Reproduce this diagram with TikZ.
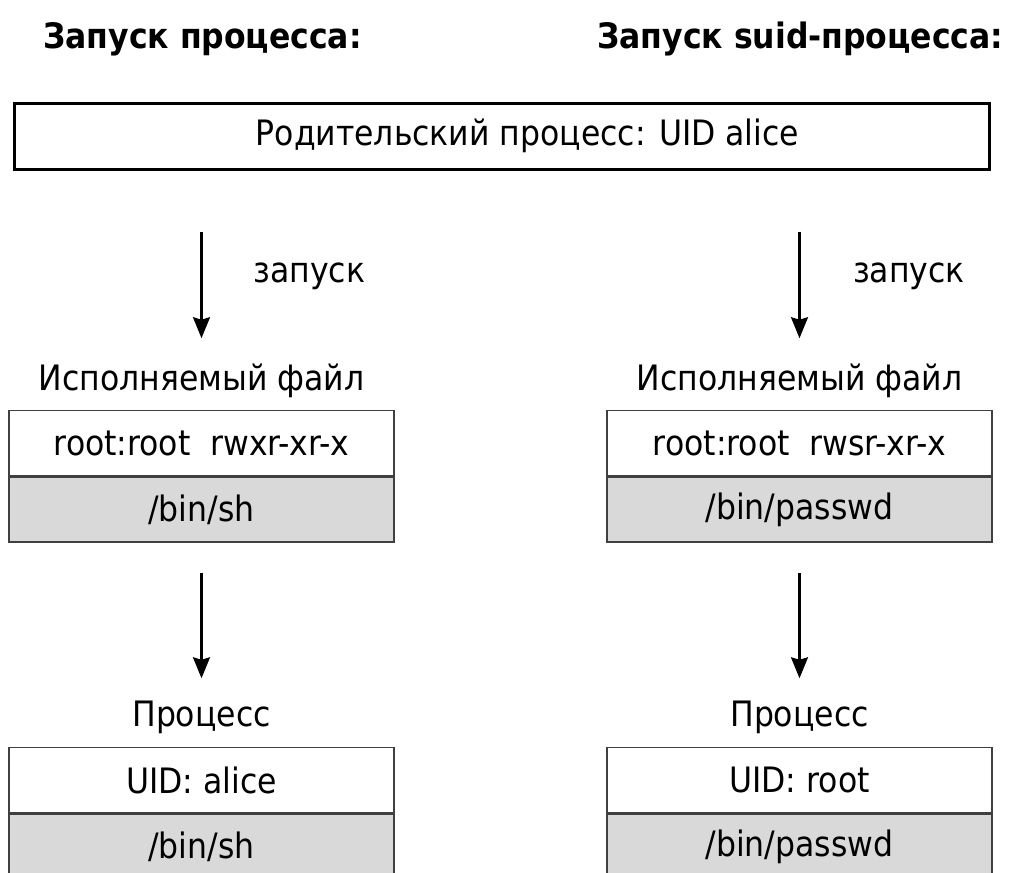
\documentclass[tikz,border=0pt]{standalone}
\usepackage{fontspec}
\setmainfont{DejaVu Sans Condensed}
\usepackage{tikz}
\usetikzlibrary{positioning, arrows.meta}

\begin{document}
\begin{tikzpicture}[x=1pt, y=-1pt,
    every node/.style={font=\fontsize{35}{42}\selectfont},
    title/.style={font=\fontsize{35}{42}\selectfont\bfseries, anchor=base west, inner sep=0pt},
    caption/.style={anchor=base, inner sep=0pt},
    cell/.style={rectangle, draw=black!75, line width=1.8pt, minimum width=385pt, minimum height=65pt, inner sep=0pt},
    pathcell/.style={cell, fill=black!15},
    parentbox/.style={rectangle, draw=black, line width=3pt, minimum width=975pt, minimum height=66pt, inner sep=0pt},
    arr/.style={-{Stealth[inset=2.5pt, width=17pt, length=21pt]}, line width=2.2pt}]
    \clip (0,0) rectangle (1010,873);
    \fill[white] (0,0) rectangle (1010,873);

    % Titles
    \node[title] (titleL) at (43,48) {Запуск процесса:};
    \node[title] (titleR) at (597,48) {Запуск suid-процесса:};

    % Parent process
    \node[parentbox] (parent) at (501.5,136) {\hspace*{52pt}Родительский процесс: UID alice};

    % Executable files
    \node[caption] (exeL) at (201.5,390) {Исполняемый файл};
    \node[caption] (exeR) at (799.5,390) {Исполняемый файл};
    \node[cell] (permL) at (201.5,443) {root:root\ \ rwxr-xr-x};
    \node[pathcell, below=0pt of permL] (fileL) {/bin/sh};
    \node[cell] (permR) at (799.5,443) {root:root\ \ rwsr-xr-x};
    \node[pathcell, below=0pt of permR] (fileR) {/bin/passwd};

    % Processes
    \node[caption] (procL) at (201.5,726) {Процесс};
    \node[caption] (procR) at (799.5,726) {Процесс};
    \node[cell] (uidL) at (201.5,780) {UID: alice};
    \node[pathcell, below=0pt of uidL] (binL) {/bin/sh};
    \node[cell] (uidR) at (799.5,780) {UID: root};
    \node[pathcell, below=0pt of uidR] (binR) {/bin/passwd};

    % Arrows
    \draw[arr, shorten <=61pt, shorten >=25pt] (parent.south -| exeL.north) -- (exeL.north);
    \draw[arr, shorten <=61pt, shorten >=25pt] (parent.south -| exeR.north) -- (exeR.north);
    \draw[arr, shorten <=30pt, shorten >=22pt] (fileL.south) -- (procL.north);
    \draw[arr, shorten <=30pt, shorten >=22pt] (fileR.south) -- (procR.north);
    \node[caption] (runL) at (309.5,282) {запуск};
    \node[caption] (runR) at (909,282) {запуск};
\end{tikzpicture}
\end{document}
